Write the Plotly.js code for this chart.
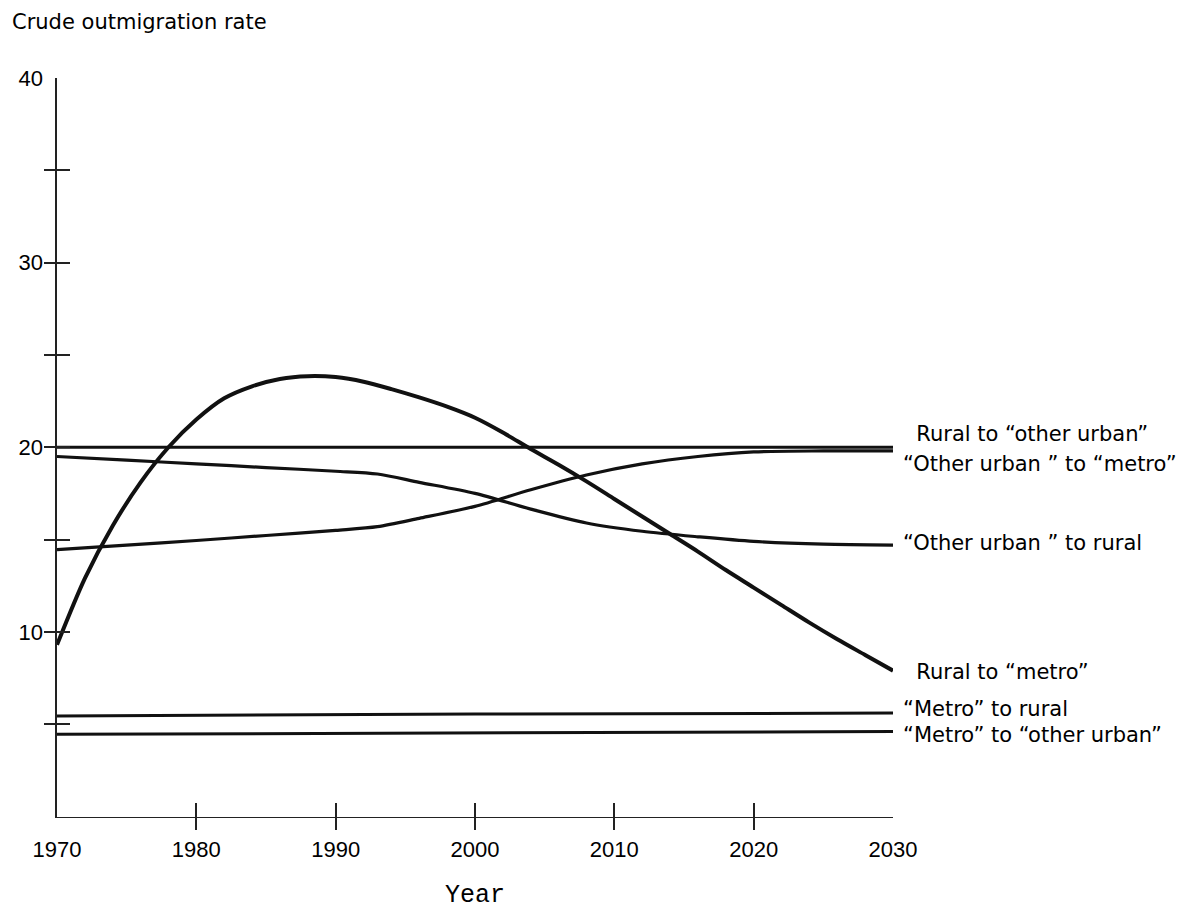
<!DOCTYPE html>
<html>
<head>
<meta charset="utf-8">
<script src="https://cdn.plot.ly/plotly-3.0.1.min.js"></script>
<style>
  html, body { margin: 0; padding: 0; background: #fff; }
  #chart { width: 1204px; height: 910px; }
</style>
</head>
<body>
<div id="chart"></div>
<script>
// Axis ticks
const tickYears = [1970, 1980, 1990, 2000, 2010, 2020, 2030];
const tickYearText = ['1970', '1980', '1990', '2000', '2010', '2020', '2030'];
const rateTicks = [5, 10, 15, 20, 25, 30, 35, 40];
const rateTickText = ['', '10', '', '20', '', '30', '', '40'];

// Rural to "other urban"
const ruralToOtherUrbanYears = [1970, 2030];
const ruralToOtherUrban = [20, 20];

// "Other urban" to "metro"
const otherUrbanToMetroYears = [1970, 1975, 1980, 1985, 1990, 1993, 1996, 2000, 2004, 2008, 2012, 2016, 2020, 2025, 2030];
const otherUrbanToMetro = [14.45, 14.7, 14.95, 15.22, 15.5, 15.7, 16.15, 16.8, 17.7, 18.5, 19.1, 19.5, 19.75, 19.8, 19.8];

// "Other urban" to rural
const otherUrbanToRuralYears = [1970, 1975, 1980, 1985, 1990, 1993, 1996, 2000, 2004, 2008, 2012, 2016, 2020, 2025, 2030];
const otherUrbanToRural = [19.5, 19.3, 19.1, 18.9, 18.7, 18.55, 18.1, 17.5, 16.65, 15.9, 15.45, 15.15, 14.9, 14.75, 14.7];

// Rural to "metro"
const ruralToMetroYears = [1970, 1972, 1974, 1976, 1978, 1980, 1982, 1984, 1986, 1988, 1990, 1992, 1994, 1996, 1998,
                           2000, 2002, 2004, 2006, 2008, 2010, 2012, 2014, 2016, 2018, 2020, 2022, 2024, 2026, 2028, 2030];
const ruralToMetro = [9.3, 12.9, 15.75, 18.1, 20.0, 21.5, 22.65, 23.3, 23.7, 23.85, 23.8, 23.55, 23.15, 22.7, 22.2,
                      21.6, 20.8, 19.9, 19.05, 18.15, 17.2, 16.25, 15.3, 14.35, 13.35, 12.4, 11.45, 10.5, 9.6, 8.75, 7.9];

// "Metro" to rural
const metroToRuralYears = [1970, 2000, 2030];
const metroToRural = [5.45, 5.55, 5.6];

// "Metro" to "other urban"
const metroToOtherUrbanYears = [1970, 2000, 2030];
const metroToOtherUrban = [4.45, 4.52, 4.6];

// Curve labels on the right
const seriesLabels = [
  '  Rural to “other urban”',
  '“Other urban ” to “metro”',
  '“Other urban ” to rural',
  '  Rural to “metro”',
  '“Metro” to rural',
  '“Metro” to “other urban”'
];

const TEXT = 'DejaVu Sans, Noto Sans, sans-serif';
const DIGITS = 'Liberation Sans, Arial, sans-serif';
const INK = '#000';

function curve(x, y, width, shape, xa, ya) {
  return {
    type: 'scatter', mode: 'lines', x: x, y: y,
    xaxis: xa || 'x', yaxis: ya || 'y',
    line: { color: '#111', width: width, shape: shape || 'linear', smoothing: 0.8 },
    hoverinfo: 'skip', showlegend: false
  };
}

const traces = [
  curve(ruralToOtherUrbanYears, ruralToOtherUrban, 3),
  curve(otherUrbanToMetroYears, otherUrbanToMetro, 3.2, 'spline'),
  curve(otherUrbanToRuralYears, otherUrbanToRural, 3.2, 'spline'),
  curve(ruralToMetroYears, ruralToMetro, 4, 'spline'),
  curve(metroToRuralYears, metroToRural, 3, 'linear', 'x2', 'y'),
  curve(metroToOtherUrbanYears, metroToOtherUrban, 3, 'linear', 'x', 'y2')
];

// Each label sits just right of its series' last point, nudged in pixels
const ends = [
  [ruralToOtherUrbanYears, ruralToOtherUrban, 13],
  [otherUrbanToMetroYears, otherUrbanToMetro, -13],
  [otherUrbanToRuralYears, otherUrbanToRural, 2],
  [ruralToMetroYears, ruralToMetro, -1],
  [metroToRuralYears, metroToRural, 4],
  [metroToOtherUrbanYears, metroToOtherUrban, -3]
];
const annotations = ends.map((e, i) => ({
  xref: 'x', yref: 'y',
  x: e[0][e[0].length - 1], y: e[1][e[1].length - 1],
  text: seriesLabels[i],
  showarrow: false, xanchor: 'left', yanchor: 'middle',
  xshift: 8, yshift: e[2],
  font: { family: TEXT, size: 21, color: INK }
}));

const plotW = 850, plotH = 752;
const xDom = [14 / plotW, 1];
const yDom = [13.5 / plotH, 1];

const layout = {
  width: 1204, height: 910,
  margin: { l: 43, r: 311, t: 78, b: 80 },
  paper_bgcolor: '#fff', plot_bgcolor: 'rgba(0,0,0,0)',
  showlegend: false,
  title: {
    text: 'Crude outmigration rate',
    font: { family: TEXT, size: 21, color: INK },
    xref: 'container', yref: 'container',
    x: 12 / 1204, xanchor: 'left', y: 1 - 22 / 910, yanchor: 'middle'
  },
  xaxis: {
    domain: xDom, range: [1970, 2030], anchor: 'y',
    showline: true, linecolor: '#222', linewidth: 1.6,
    ticks: '', tickvals: tickYears, ticktext: tickYearText,
    ticklabelstandoff: 12,
    tickfont: { family: DIGITS, size: 22, color: INK },
    showgrid: false, zeroline: false,
    title: { text: 'Year', standoff: 26, font: { family: 'Liberation Mono, Courier New, monospace', size: 25, color: INK } }
  },
  yaxis: {
    domain: yDom, range: [0, 40], anchor: 'x',
    showline: true, linecolor: '#222', linewidth: 1.6,
    ticks: '', showticklabels: false,
    showgrid: false, zeroline: false
  },
  // Companion axes that carry the ticks crossing the axis lines
  xaxis2: {
    overlaying: 'x', anchor: 'free', position: 0, side: 'bottom',
    domain: xDom, range: [1970, 2030],
    ticks: 'inside', ticklen: 27, tickwidth: 2, tickcolor: '#222',
    tickvals: tickYears.slice(1), showticklabels: false,
    showline: false, showgrid: false, zeroline: false
  },
  yaxis2: {
    overlaying: 'y', anchor: 'free', position: 0, side: 'left',
    domain: yDom, range: [0, 40],
    ticks: 'inside', ticklen: 26, tickwidth: 2, tickcolor: '#222',
    tickvals: rateTicks, ticktext: rateTickText,
    tickfont: { family: DIGITS, size: 22, color: INK },
    showline: false, showgrid: false, zeroline: false
  },
  annotations: annotations
};

Plotly.newPlot('chart', traces, layout, { displayModeBar: false, staticPlot: true });
</script>
</body>
</html>
